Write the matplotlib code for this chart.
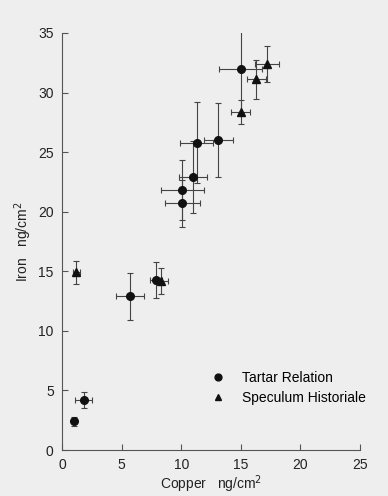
import matplotlib.pyplot as plt

# Tartar Relation (circles)
tartar_cu = [11.3, 11.0, 13.1, 10.1, 10.1, 15.0, 5.7, 7.9, 1.8, 1.0]
tartar_fe = [25.8, 22.9, 26.0, 21.8, 20.7, 32.0, 12.9, 14.3, 4.2, 2.4]
tartar_cu_err = [1.4, 1.2, 1.2, 1.8, 1.5, 1.8, 1.2, 0.5, 0.7, 0.2]
tartar_fe_err = [3.4, 3.0, 3.1, 2.5, 2.0, 3.7, 1.95, 1.5, 0.7, 0.4]

# Speculum Historiale (triangles)
spec_cu = [15.0, 17.2, 16.3, 1.2, 8.3]
spec_fe = [28.4, 32.4, 31.1, 14.9, 14.2]
spec_cu_err = [0.8, 1.0, 0.8, 0.3, 0.6]
spec_fe_err = [1.0, 1.5, 1.6, 1.0, 1.1]

plt.rcParams['font.family'] = ['Liberation Sans', 'DejaVu Sans']
plt.rcParams['font.size'] = 10

fig = plt.figure(figsize=(3.88, 4.96), dpi=100, facecolor='#eeeeee')
ax = fig.add_axes([0.160, 0.0927, 0.768, 0.8408])
ax.set_facecolor('#eeeeee')

ax.errorbar(tartar_cu, tartar_fe, xerr=tartar_cu_err, yerr=tartar_fe_err,
            fmt='o', color='#111111', ecolor='#444444', elinewidth=0.8,
            capsize=2, capthick=0.8, markersize=5.5, label='Tartar Relation')
ax.errorbar(spec_cu, spec_fe, xerr=spec_cu_err, yerr=spec_fe_err,
            fmt='^', color='#111111', ecolor='#444444', elinewidth=0.8,
            capsize=2, capthick=0.8, markersize=5.5, label='Speculum Historiale')

ax.set_xlim(0, 25)
ax.set_ylim(0, 35)
ax.set_xticks(range(0, 26, 5))
ax.set_yticks(range(0, 36, 5))
ax.spines['top'].set_visible(False)
ax.spines['right'].set_visible(False)
ax.spines['left'].set_color('#555555')
ax.spines['bottom'].set_color('#555555')
ax.tick_params(direction='in', length=4, pad=6, color='#555555',
               labelcolor='#222222')

ax.set_xlabel('Copper   ng/cm$^2$', color='#222222', labelpad=1)
ax.set_ylabel('Iron   ng/cm$^2$', color='#222222', labelpad=3)

handles, labels = ax.get_legend_handles_labels()
handles = [h[0] for h in handles]
fig.legend(handles, labels, loc='upper left', bbox_to_anchor=(0.544, 0.252),
           frameon=False, borderpad=0, borderaxespad=0, handletextpad=1.2,
           handlelength=1.0, labelspacing=0.45, markerscale=0.9)

fig.savefig('out.png', dpi=100, facecolor=fig.get_facecolor())
